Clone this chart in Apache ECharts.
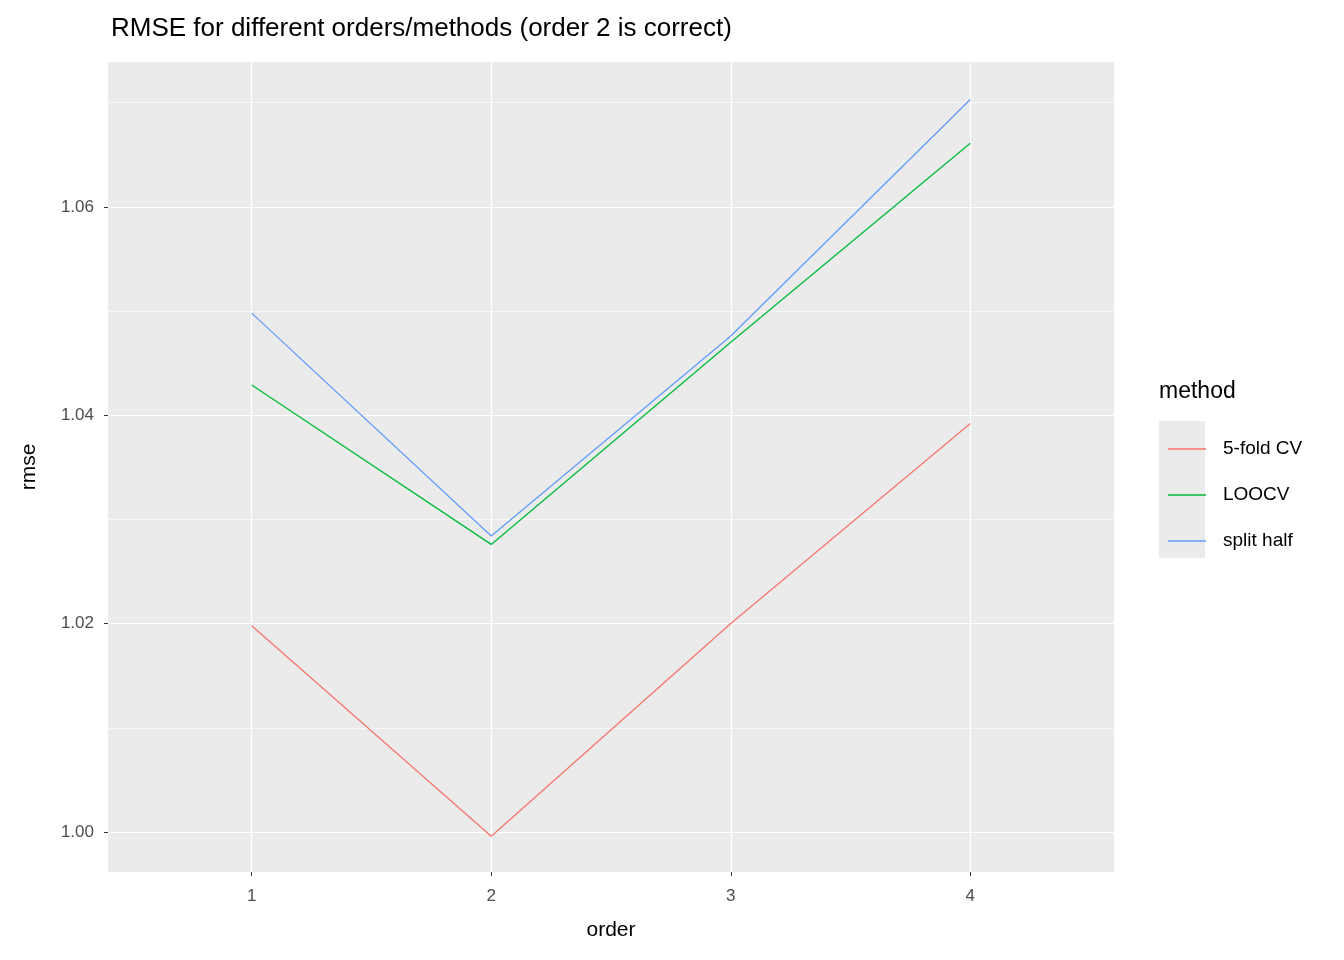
<!DOCTYPE html>
<html><head><meta charset="utf-8">
<script src="https://cdn.jsdelivr.net/npm/echarts@6/dist/echarts.min.js"></script>
<style>body{margin:0}#main{width:1344px;height:960px}</style></head>
<body><div id="main"></div>
<script>
var orders = [1, 2, 3, 4];
var fold5 = [1.0198, 0.9996, 1.0200, 1.0392];
var loocv = [1.0429, 1.0276, 1.0470, 1.0661];
var split = [1.0498, 1.0284, 1.0476, 1.0703];
var yTicks = [1.00, 1.02, 1.04, 1.06];
var yMinor = [1.01, 1.03, 1.05, 1.07];

var chart = echarts.init(document.getElementById('main'));
function pairs(v) { return orders.map(function (o, i) { return [o, v[i]]; }); }
function mk(name, color, vals) {
  return { name: name, type: 'line', data: pairs(vals), symbol: 'none', z: 5,
    lineStyle: { color: color, width: 1.3 }, itemStyle: { color: color } };
}
var gridLines = [];
yTicks.forEach(function (v) { gridLines.push({ yAxis: v, lineStyle: { width: 1.2 } }); });
yMinor.forEach(function (v) { gridLines.push({ yAxis: v, lineStyle: { width: 0.6 } }); });
orders.forEach(function (v) { gridLines.push({ xAxis: v, lineStyle: { width: 1.2 } }); });

chart.setOption({
  animation: false,
  backgroundColor: '#fff',
  textStyle: { fontFamily: 'Liberation Sans' },
  title: { text: 'RMSE for different orders/methods (order 2 is correct)', left: 106, top: 11,
    textStyle: { fontSize: 26, fontWeight: 'normal', color: '#000' } },
  grid: { left: 108, right: 230, top: 62, bottom: 88, backgroundColor: '#EBEBEB', show: true, borderWidth: 0 },
  xAxis: { type: 'value', min: 0.4, max: 4.6, splitLine: { show: false },
    axisLine: { show: false },
    axisTick: { customValues: orders, length: 4, lineStyle: { color: '#333' } },
    axisLabel: { customValues: orders, color: '#4D4D4D', fontSize: 17, margin: 16 },
    name: 'order', nameLocation: 'middle', nameGap: 48, nameTextStyle: { fontSize: 21, color: '#000' } },
  yAxis: { type: 'value', min: 0.99616, max: 1.0739, splitLine: { show: false },
    axisLine: { show: false },
    axisTick: { customValues: yTicks, length: 4, lineStyle: { color: '#333' } },
    axisLabel: { customValues: yTicks, color: '#4D4D4D', fontSize: 17, margin: 14,
      formatter: function (v) { return v.toFixed(2); } },
    name: 'rmse', nameLocation: 'middle', nameGap: 68, nameRotate: 90, nameTextStyle: { fontSize: 21, color: '#000' } },
  legend: { orient: 'vertical', left: 1163, top: 434, itemWidth: 38, itemHeight: 1.5, itemGap: 26, icon: 'rect',
    textStyle: { fontSize: 19, color: '#000', lineHeight: 20, padding: [0, 0, 0, 12] },
    data: ['5-fold CV', 'LOOCV', 'split half'] },
  graphic: [
    { type: 'text', left: 1159, top: 380, style: { text: 'method', fontSize: 23, fill: '#000', fontFamily: 'Liberation Sans' } },
    { type: 'rect', left: 1159, top: 421, shape: { width: 46, height: 137 }, style: { fill: '#EBEBEB' }, z: -1 }
  ],
  series: [
    { type: 'line', data: [], silent: true, z: 1,
      markLine: { silent: true, symbol: 'none', label: { show: false }, animation: false,
        lineStyle: { color: '#fff', type: 'solid' }, data: gridLines } },
    mk('5-fold CV', '#F8766D', fold5),
    mk('LOOCV', '#00BA38', loocv),
    mk('split half', '#619CFF', split)
  ]
});
</script></body></html>
